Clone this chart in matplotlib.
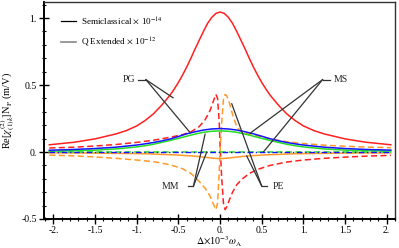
import matplotlib
matplotlib.use("Agg")
import matplotlib.pyplot as plt
from matplotlib.lines import Line2D
from matplotlib.ticker import MultipleLocator, FixedLocator

plt.rcParams['font.family'] = ['Liberation Serif', 'DejaVu Serif']
plt.rcParams['mathtext.fontset'] = 'stix'

# red solid peak
x_red = [-2.05, -1.75, -1.5, -1.25, -1.125, -1.0, -0.9, -0.8, -0.7, -0.6, -0.55, -0.5, -0.45,
         -0.4, -0.35, -0.3, -0.25, -0.2, -0.15, -0.1, -0.05, 0.0,
         0.05, 0.1, 0.15, 0.2, 0.25, 0.3, 0.35, 0.4, 0.45, 0.5, 0.55, 0.6, 0.7, 0.8, 0.9,
         1.0, 1.125, 1.25, 1.5, 1.75, 2.05]
red_solid = [0.054, 0.073, 0.098, 0.135, 0.16, 0.195, 0.235, 0.285, 0.35, 0.425, 0.47, 0.52, 0.575,
             0.635, 0.70, 0.77, 0.835, 0.90, 0.96, 1.005, 1.035, 1.045,
             1.035, 1.005, 0.96, 0.90, 0.835, 0.77, 0.70, 0.635, 0.575, 0.52, 0.47, 0.425, 0.35, 0.285, 0.235,
             0.195, 0.16, 0.135, 0.098, 0.073, 0.054]

# broad curves (blue, green, orange solid)
x_sym = [-2.05, -1.75, -1.5, -1.25, -1.0, -0.9, -0.8, -0.7, -0.6, -0.5, -0.4, -0.3, -0.2, -0.1, 0.0,
         0.1, 0.2, 0.3, 0.4, 0.5, 0.6, 0.7, 0.8, 0.9, 1.0, 1.25, 1.5, 1.75, 2.05]
blue_solid = [0.013, 0.019, 0.026, 0.036, 0.052, 0.061, 0.071, 0.083, 0.097, 0.116, 0.136, 0.151, 0.164, 0.172, 0.175,
              0.172, 0.164, 0.151, 0.136, 0.118, 0.099, 0.084, 0.071, 0.061, 0.052, 0.036, 0.026, 0.019, 0.014]
green_solid = [0.006, 0.01, 0.014, 0.023, 0.038, 0.047, 0.058, 0.072, 0.086, 0.102, 0.118, 0.134, 0.147, 0.155, 0.158,
               0.155, 0.147, 0.134, 0.118, 0.102, 0.086, 0.072, 0.058, 0.047, 0.038, 0.023, 0.014, 0.01, 0.007]
orange_solid = [-0.006, -0.007, -0.008, -0.01, -0.012, -0.013, -0.015, -0.018, -0.02, -0.023, -0.027, -0.031, -0.038, -0.045, -0.05,
                -0.045, -0.038, -0.031, -0.027, -0.023, -0.02, -0.018, -0.015, -0.013, -0.012, -0.01, -0.008, -0.007, -0.006]

# dispersive curves (red dashed, orange dashed)
x_disp = [-2.05, -1.75, -1.5, -1.25, -1.0, -0.8, -0.6, -0.45, -0.35, -0.25, -0.18, -0.12,
          -0.08, -0.05, -0.03, -0.01, 0.0, 0.02, 0.04, 0.06, 0.08, 0.11, 0.15, 0.2, 0.25,
          0.35, 0.45, 0.6, 0.8, 1.0, 1.25, 1.5, 1.75, 2.05]
red_dashed = [0.030, 0.036, 0.045, 0.056, 0.072, 0.088, 0.11, 0.13, 0.15, 0.19, 0.24, 0.31,
              0.38, 0.43, 0.40, 0.22, 0.05, -0.2, -0.38, -0.43, -0.41, -0.36, -0.3, -0.245, -0.21,
              -0.16, -0.13, -0.1, -0.075, -0.06, -0.047, -0.038, -0.031, -0.025]
orange_dashed = [-0.023, -0.029, -0.037, -0.047, -0.06, -0.072, -0.095, -0.125, -0.16, -0.22, -0.27, -0.33,
                 -0.39, -0.43, -0.38, -0.15, 0.0, 0.22, 0.39, 0.43, 0.42, 0.37, 0.28, 0.19, 0.155,
                 0.13, 0.12, 0.098, 0.077, 0.063, 0.051, 0.043, 0.037, 0.032]

x_zero = [-2.05, 2.05]
zero_line = [0.0, 0.0]

xticks = [-2, -1.5, -1, -0.5, 0, 0.5, 1, 1.5, 2]
xticklabels = ['-2.', '-1.5', '-1.', '-0.5', '0.', '0.5', '1.', '1.5', '2.']
yticks = [-0.5, 0, 0.5, 1]
yticklabels = ['-0.5', '0.', '0.5', '1.']

# annotation labels: (text position, line start, joint, targets)
labels = {
    'PG': ((-1.10, 0.54), (-0.985, 0.54), (-0.89, 0.54), [(-0.565, 0.405), (-0.36, 0.145)]),
    'MS': ((1.45, 0.54), (1.32, 0.54), (1.23, 0.54), [(0.36, 0.14), (0.52, 0.0)]),
    'MM': ((-0.60, -0.255), (-0.38, -0.255), (-0.32, -0.255), [(-0.18, 0.133), (-0.16, 0.0)]),
    'PE': ((0.70, -0.255), (0.56, -0.255), (0.50, -0.255), [(0.14, 0.36), (0.32, -0.03)]),
}

fig = plt.figure(figsize=(3.99, 2.48), dpi=100)
ax = fig.add_axes([0.110, 0.117, 0.880, 0.875])

lw = 1.1
dash = (0, (4, 2.2))
ax.plot(x_red, red_solid, color='#ff2020', lw=lw)
ax.plot(x_disp, red_dashed, color='#ff2020', lw=lw, ls=dash)
ax.plot(x_disp, orange_dashed, color='#ff9a2a', lw=lw, ls=dash)
ax.plot(x_sym, orange_solid, color='#ff9a2a', lw=lw)
ax.plot(x_sym, green_solid, color='#22dd22', lw=lw)
ax.plot(x_sym, blue_solid, color='#1414ff', lw=lw)
ax.plot(x_zero, zero_line, color='#22dd22', lw=lw, ls=dash)
ax.plot(x_zero, zero_line, color='#1414ff', lw=lw * 0.9, ls=(0, (4, 2, 1, 2)))

for name, (tpos, start, joint, targets) in labels.items():
    ax.plot([start[0], joint[0]], [start[1], joint[1]], color='#333333', lw=0.9)
    for t in targets:
        ax.plot([joint[0], t[0]], [joint[1], t[1]], color='#333333', lw=0.9)
    ax.text(tpos[0], tpos[1], name, fontsize=7, ha='center', va='center', color='#222222')

handles = [Line2D([], [], color='black', lw=0.9),
           Line2D([], [], color='#888888', lw=1.2)]
ax.legend(handles, [r'Semiclassical $\times$ 10$^{-14}$', r'Q Extended $\times$ 10$^{-12}$'],
          loc='upper left', bbox_to_anchor=(0.025, 0.975), frameon=False, fontsize=6.6,
          handlelength=1.6, handletextpad=0.6, labelspacing=0.95)

ax.set_xlim(-2.115, 2.1)
ax.set_ylim(-0.5, 1.12)
ax.xaxis.set_major_locator(FixedLocator(xticks))
ax.set_xticklabels(xticklabels)
ax.yaxis.set_major_locator(FixedLocator(yticks))
ax.set_yticklabels(yticklabels)
ax.xaxis.set_minor_locator(MultipleLocator(0.1))
ax.yaxis.set_minor_locator(MultipleLocator(0.1))
ax.tick_params(which='major', direction='inout', length=7, width=1.0, labelsize=7, pad=1.5)
ax.tick_params(which='minor', direction='inout', length=3, width=0.8)
ax.tick_params(top=False, right=False, which='both')

for s in ['left', 'bottom']:
    ax.spines[s].set_linewidth(1.4)
for s in ['top', 'right']:
    ax.spines[s].set_linewidth(1.0)
    ax.spines[s].set_color('#333333')

ax.set_ylabel(r'Re[$\chi^{(2)}_{(1)k}$]N$_\mathrm{P}$ (m/V)', fontsize=7.5, labelpad=3)
ax.set_xlabel(r'$\Delta$$\times$10$^{-3}$$\omega_\mathrm{A}$', fontsize=7.2, labelpad=-0.5)

fig.savefig('out.png', dpi=100)
